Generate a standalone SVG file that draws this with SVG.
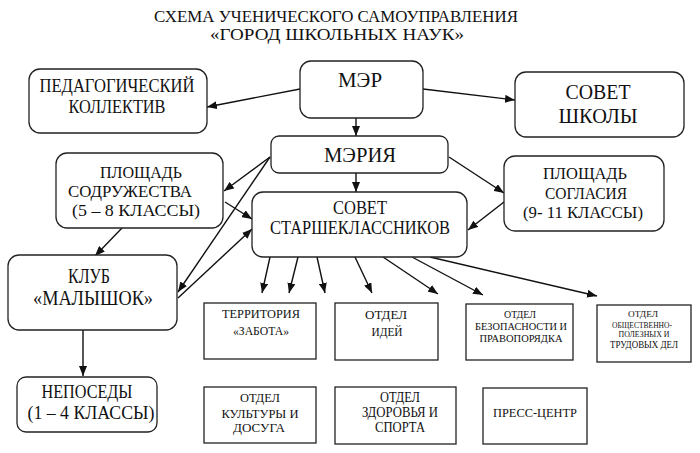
<svg xmlns="http://www.w3.org/2000/svg" width="700" height="453" viewBox="0 0 700 453">
<style>
.box{fill:#fff;stroke:#222;stroke-width:1.3}
.t{font-family:"Liberation Serif","DejaVu Serif","Times New Roman",serif;fill:#111;text-anchor:middle}
.c{stroke:#111;stroke-width:1.4;fill:none;marker-end:url(#ah)}
</style>
<defs>
<marker id="ah" markerUnits="userSpaceOnUse" markerWidth="10" markerHeight="8" refX="10" refY="4" orient="auto">
<path d="M0,0 L10,4 L0,8 z" fill="#111"/>
</marker>
</defs>
<rect width="700" height="453" fill="#fff"/>
<g id="title">
<text class="t" x="336" y="22" font-size="17" textLength="364" lengthAdjust="spacingAndGlyphs">СХЕМА УЧЕНИЧЕСКОГО САМОУПРАВЛЕНИЯ</text>
<text class="t" x="337" y="40" font-size="17" textLength="254" lengthAdjust="spacingAndGlyphs">«ГОРОД ШКОЛЬНЫХ НАУК»</text>
</g>
<g id="connectors">
<line class="c" x1="300" y1="89" x2="207" y2="107"/>
<line class="c" x1="423" y1="89" x2="515" y2="100"/>
<line class="c" x1="356" y1="118" x2="356" y2="136"/>
<line class="c" x1="356" y1="173" x2="356" y2="192"/>
<line class="c" x1="270" y1="157" x2="224" y2="191"/>
<line class="c" x1="270" y1="157" x2="178" y2="292"/>
<line class="c" x1="178" y1="298" x2="252" y2="229"/>
<line class="c" x1="225" y1="202" x2="252" y2="219"/>
<line class="c" x1="449" y1="157" x2="504" y2="193"/>
<line class="c" x1="504" y1="202" x2="468" y2="230"/>
<line class="c" x1="122" y1="228" x2="95" y2="256"/>
<line class="c" x1="83" y1="330" x2="83" y2="376"/>
<line class="c" x1="270" y1="257" x2="262" y2="293"/>
<line class="c" x1="298" y1="257" x2="289" y2="293"/>
<line class="c" x1="317" y1="257" x2="325" y2="293"/>
<line class="c" x1="355" y1="257" x2="372" y2="293"/>
<line class="c" x1="383" y1="257" x2="438" y2="294"/>
<line class="c" x1="412" y1="257" x2="483" y2="295"/>
<line class="c" x1="430" y1="257" x2="597" y2="296"/>
</g>
<g id="ped">
<rect class="box" x="29" y="69" width="178" height="64" rx="11"/>
<text class="t" x="117" y="92" font-size="19" textLength="155" lengthAdjust="spacingAndGlyphs">ПЕДАГОГИЧЕСКИЙ</text>
<text class="t" x="117" y="113" font-size="19" textLength="97" lengthAdjust="spacingAndGlyphs">КОЛЛЕКТИВ</text>
</g>
<g id="mer">
<rect class="box" x="300" y="61" width="123" height="57" rx="11"/>
<text class="t" x="360" y="87" font-size="20" textLength="44" lengthAdjust="spacingAndGlyphs">МЭР</text>
</g>
<g id="sovet-shkoly">
<rect class="box" x="515" y="72" width="169" height="65" rx="11"/>
<text class="t" x="598" y="99" font-size="22" textLength="65" lengthAdjust="spacingAndGlyphs">СОВЕТ</text>
<text class="t" x="598" y="123" font-size="22" textLength="79" lengthAdjust="spacingAndGlyphs">ШКОЛЫ</text>
</g>
<g id="meria">
<rect class="box" x="271" y="136" width="177" height="37" rx="8"/>
<text class="t" x="360" y="162" font-size="21" textLength="72" lengthAdjust="spacingAndGlyphs">МЭРИЯ</text>
</g>
<g id="sodruzh">
<rect class="box" x="56" y="153" width="167" height="75" rx="11"/>
<text class="t" x="141" y="178" font-size="16" textLength="82" lengthAdjust="spacingAndGlyphs">ПЛОЩАДЬ</text>
<text class="t" x="130" y="197" font-size="16" textLength="124" lengthAdjust="spacingAndGlyphs">СОДРУЖЕСТВА</text>
<text class="t" x="136" y="216" font-size="16" textLength="128" lengthAdjust="spacingAndGlyphs">(5 – 8 КЛАССЫ)</text>
</g>
<g id="soglasia">
<rect class="box" x="504" y="156" width="160" height="75" rx="11"/>
<text class="t" x="585" y="179" font-size="16" textLength="84" lengthAdjust="spacingAndGlyphs">ПЛОЩАДЬ</text>
<text class="t" x="586" y="199" font-size="16" textLength="82" lengthAdjust="spacingAndGlyphs">СОГЛАСИЯ</text>
<text class="t" x="583" y="218" font-size="16" textLength="120" lengthAdjust="spacingAndGlyphs">(9- 11 КЛАССЫ)</text>
</g>
<g id="starsh">
<rect class="box" x="252" y="192" width="215" height="65" rx="11"/>
<text class="t" x="360" y="214" font-size="18" textLength="54" lengthAdjust="spacingAndGlyphs">СОВЕТ</text>
<text class="t" x="360" y="234" font-size="18" textLength="180" lengthAdjust="spacingAndGlyphs">СТАРШЕКЛАССНИКОВ</text>
</g>
<g id="klub">
<rect class="box" x="8" y="255" width="169" height="75" rx="11"/>
<text class="t" x="89" y="283" font-size="20" textLength="42" lengthAdjust="spacingAndGlyphs">КЛУБ</text>
<text class="t" x="93" y="305" font-size="20" textLength="120" lengthAdjust="spacingAndGlyphs">«МАЛЫШОК»</text>
</g>
<g id="neposedy">
<rect class="box" x="17" y="377" width="140" height="55" rx="9"/>
<text class="t" x="87" y="398" font-size="18" textLength="91" lengthAdjust="spacingAndGlyphs">НЕПОСЕДЫ</text>
<text class="t" x="91" y="419" font-size="18" textLength="127" lengthAdjust="spacingAndGlyphs">(1 – 4 КЛАССЫ)</text>
</g>
<g id="territoria">
<rect class="box" x="204" y="303" width="112" height="56"/>
<text class="t" x="261" y="318" font-size="12" textLength="78" lengthAdjust="spacingAndGlyphs">ТЕРРИТОРИЯ</text>
<text class="t" x="261" y="335" font-size="12" textLength="56" lengthAdjust="spacingAndGlyphs">«ЗАБОТА»</text>
</g>
<g id="idei">
<rect class="box" x="335" y="303" width="103" height="57"/>
<text class="t" x="386" y="319" font-size="13" textLength="42" lengthAdjust="spacingAndGlyphs">ОТДЕЛ</text>
<text class="t" x="387" y="336" font-size="13" textLength="31" lengthAdjust="spacingAndGlyphs">ИДЕЙ</text>
</g>
<g id="bezop">
<rect class="box" x="466" y="304" width="107" height="56"/>
<text class="t" x="520" y="318" font-size="11" textLength="32" lengthAdjust="spacingAndGlyphs">ОТДЕЛ</text>
<text class="t" x="521" y="330" font-size="11" textLength="92" lengthAdjust="spacingAndGlyphs">БЕЗОПАСНОСТИ И</text>
<text class="t" x="521" y="342" font-size="11" textLength="83" lengthAdjust="spacingAndGlyphs">ПРАВОПОРЯДКА</text>
</g>
<g id="obshch">
<rect class="box" x="597" y="305" width="94" height="57"/>
<text class="t" x="643" y="317" font-size="9" textLength="30" lengthAdjust="spacingAndGlyphs">ОТДЕЛ</text>
<text class="t" x="642" y="328" font-size="9" textLength="60" lengthAdjust="spacingAndGlyphs">ОБЩЕСТВЕННО-</text>
<text class="t" x="644" y="337" font-size="9" textLength="51" lengthAdjust="spacingAndGlyphs">ПОЛЕЗНЫХ И</text>
<text class="t" x="644" y="348" font-size="10" textLength="68" lengthAdjust="spacingAndGlyphs">ТРУДОВЫХ ДЕЛ</text>
</g>
<g id="kultura">
<rect class="box" x="204" y="387" width="112" height="56"/>
<text class="t" x="260" y="402" font-size="12" textLength="40" lengthAdjust="spacingAndGlyphs">ОТДЕЛ</text>
<text class="t" x="260" y="418" font-size="12" textLength="77" lengthAdjust="spacingAndGlyphs">КУЛЬТУРЫ И</text>
<text class="t" x="259" y="432" font-size="12" textLength="52" lengthAdjust="spacingAndGlyphs">ДОСУГА</text>
</g>
<g id="zdorovie">
<rect class="box" x="335" y="387" width="121" height="57"/>
<text class="t" x="400" y="402" font-size="14" textLength="40" lengthAdjust="spacingAndGlyphs">ОТДЕЛ</text>
<text class="t" x="400" y="417" font-size="14" textLength="76" lengthAdjust="spacingAndGlyphs">ЗДОРОВЬЯ И</text>
<text class="t" x="400" y="432" font-size="14" textLength="50" lengthAdjust="spacingAndGlyphs">СПОРТА</text>
</g>
<g id="press">
<rect class="box" x="483" y="388" width="104" height="56"/>
<text class="t" x="535" y="417" font-size="13" textLength="84" lengthAdjust="spacingAndGlyphs">ПРЕСС-ЦЕНТР</text>
</g>
</svg>
